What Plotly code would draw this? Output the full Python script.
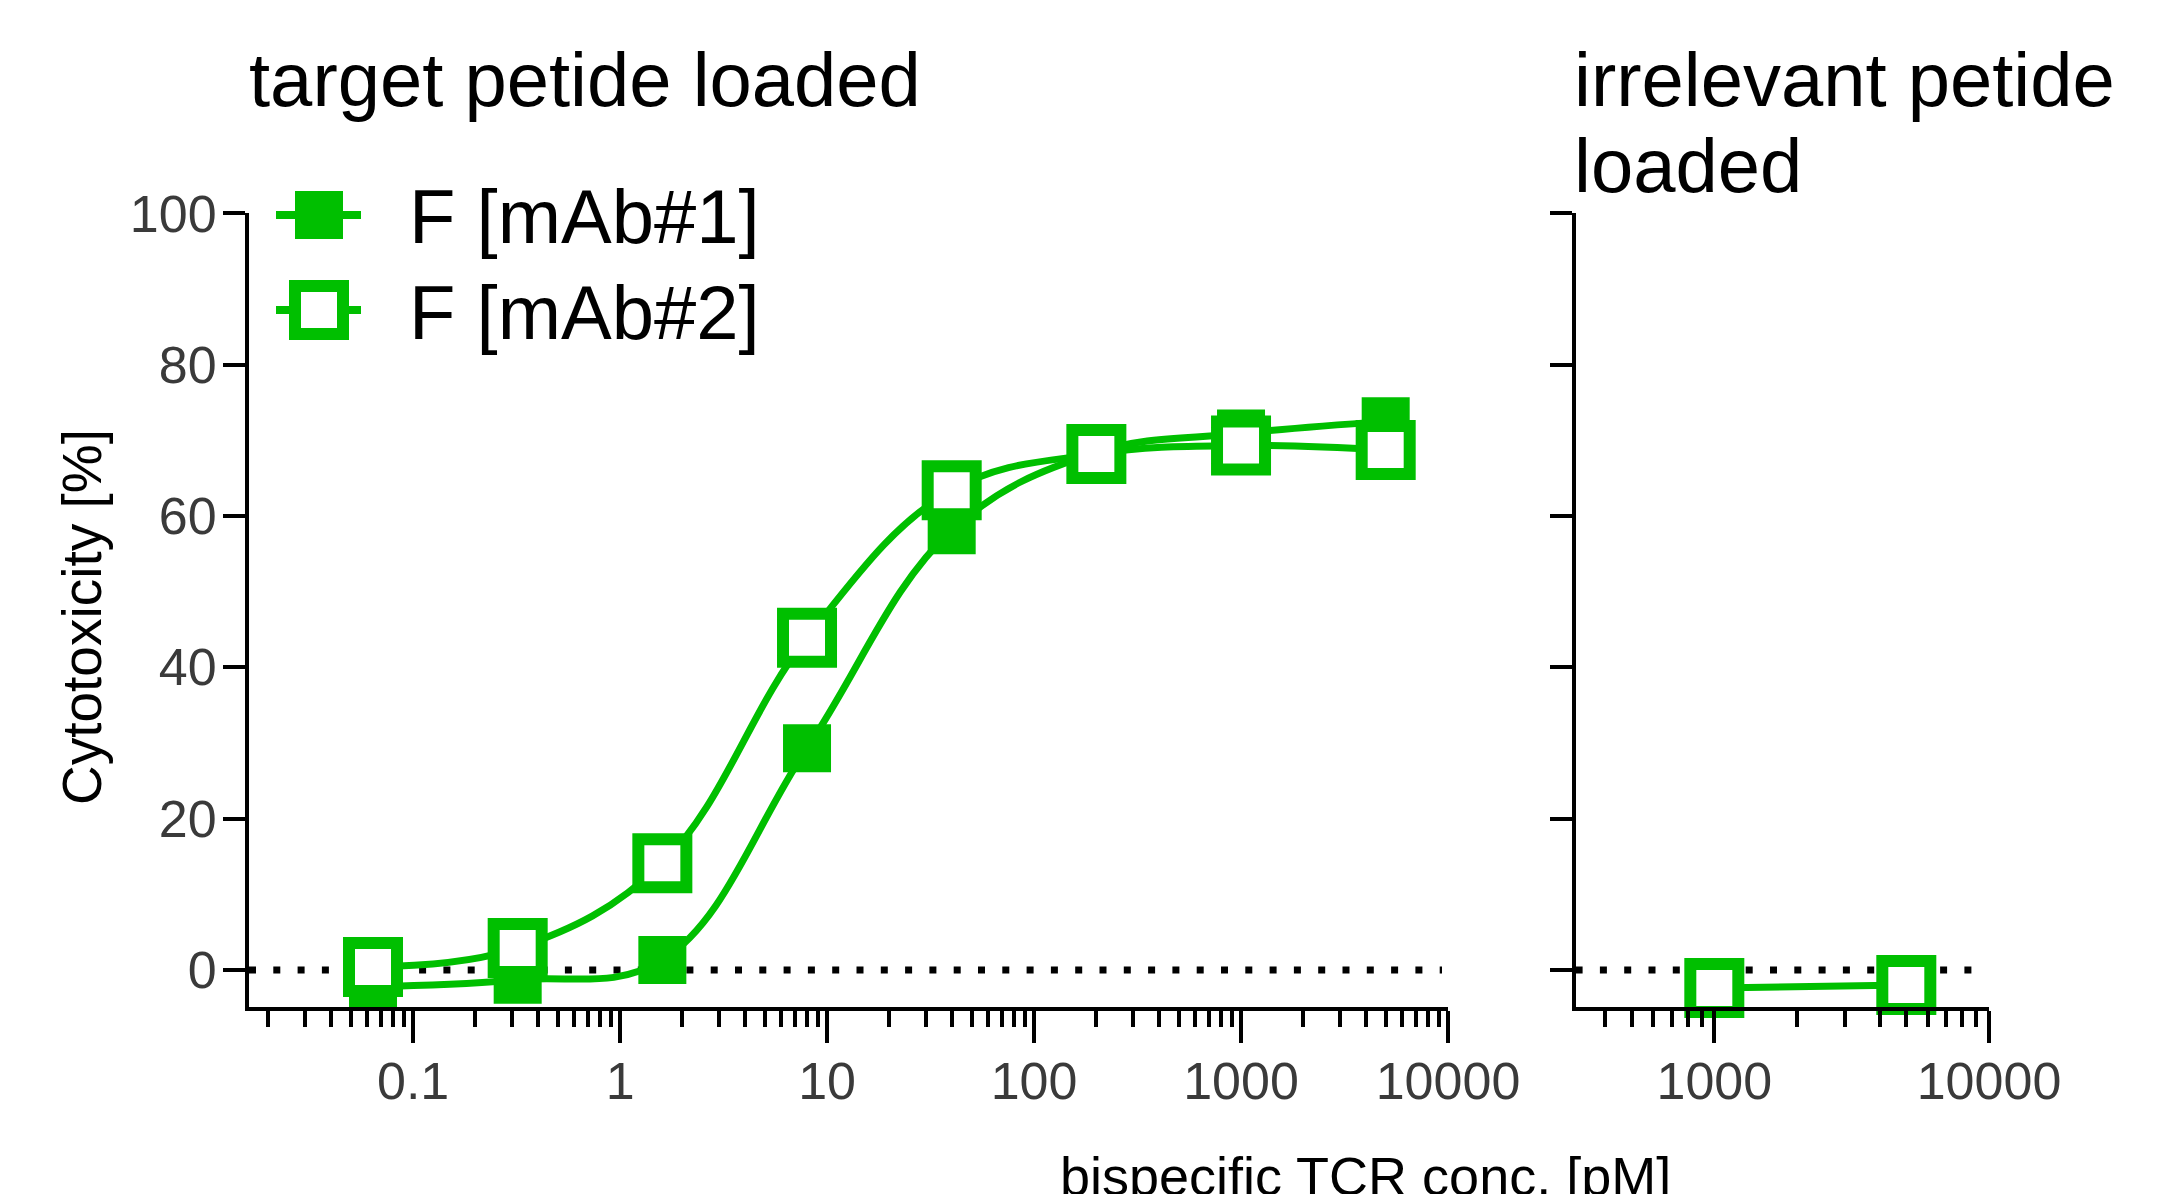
import math
import plotly.graph_objects as go

# ---------------- data ----------------
conc = [0.064, 0.32, 1.6, 8, 40, 200, 1000, 5000]
mab1 = [-2.2, -1.3, 1.3, 29.3, 58.1, 68.4, 70.9, 72.5]
mab2 = [0.4, 2.9, 14.1, 43.9, 63.4, 68.2, 69.3, 68.7]
irr_conc = [1000, 5000]
irr_mab2 = [-2.4, -2.0]

series_names = ["F [mAb#1]", "F [mAb#2]"]
x_tickvals = [0.1, 1, 10, 100, 1000, 10000]
x_ticktext = ["0.1", "1", "10", "100", "1000", "10000"]
x2_tickvals = [1000, 10000]
x2_ticktext = ["1000", "10000"]
y_tickvals = [0, 20, 40, 60, 80, 100]
minor_vals = [m * 10 ** e for e in range(-2, 4) for m in range(2, 10)]

# ---------------- style ----------------
W, H = 2172, 1194
GREEN = "#00bf00"
FONT = "Liberation Sans, Arial, sans-serif"
TICKCOL = "#3a3a3a"
LW = 7

def px_x(p):
    return p / W

def px_y(p):
    return 1 - p / H

fig = go.Figure()

filled_marker = dict(symbol="square", size=48, color=GREEN, line=dict(width=0))
open_marker = dict(symbol="square", size=48, color="white", line=dict(color=GREEN, width=12))

# left panel
fig.add_trace(go.Scatter(x=conc, y=mab1, mode="lines+markers", name=series_names[0],
                         line=dict(color=GREEN, width=LW, shape="spline", smoothing=1.1),
                         marker=filled_marker, xaxis="x", yaxis="y", showlegend=False, cliponaxis=False))
fig.add_trace(go.Scatter(x=conc, y=mab2, mode="lines+markers", name=series_names[1],
                         line=dict(color=GREEN, width=LW, shape="spline", smoothing=1.1),
                         marker=open_marker, xaxis="x", yaxis="y", showlegend=False, cliponaxis=False))
# right panel
fig.add_trace(go.Scatter(x=irr_conc, y=irr_mab2, mode="lines+markers", name=series_names[1],
                         line=dict(color=GREEN, width=LW),
                         marker=open_marker, xaxis="x2", yaxis="y2", showlegend=False, cliponaxis=False))

# custom legend (drawn in paper coordinates)
leg_y = [207, 302]
leg_cx = 311
for i, (name, yy) in enumerate(zip(series_names, leg_y)):
    fig.add_shape(type="line", xref="paper", yref="paper", x0=px_x(268), x1=px_x(353), y0=px_y(yy), y1=px_y(yy),
                  line=dict(color=GREEN, width=8), layer="above")
    if i == 0:
        h = 24
        fig.add_shape(type="rect", xref="paper", yref="paper", x0=px_x(leg_cx - h), x1=px_x(leg_cx + h),
                      y0=px_y(yy - h), y1=px_y(yy + h), fillcolor=GREEN, line=dict(width=0), layer="above")
    else:
        h = 24
        fig.add_shape(type="rect", xref="paper", yref="paper", x0=px_x(leg_cx - h), x1=px_x(leg_cx + h),
                      y0=px_y(yy - h), y1=px_y(yy + h), fillcolor="white", line=dict(color=GREEN, width=12),
                      layer="above")
    fig.add_annotation(x=px_x(399), y=px_y(yy + 2), xref="paper", yref="paper", text=name, showarrow=False,
                       xanchor="left", yanchor="middle", font=dict(family=FONT, size=76, color="black"))

# dotted zero lines
fig.add_shape(type="line", xref="x domain", yref="y", x0=0.0, x1=0.995, y0=0, y1=0,
              line=dict(color="black", width=7, dash="7px,17.3px"), layer="below")
fig.add_shape(type="line", xref="x2 domain", yref="y2", x0=0.0, x1=0.985, y0=0, y1=0,
              line=dict(color="black", width=7, dash="7px,17.3px"), layer="below")

axis_common = dict(showline=True, linewidth=4, linecolor="black", ticks="outside", tickwidth=4,
                   tickcolor="black", showgrid=False, zeroline=False,
                   tickfont=dict(family=FONT, size=52, color=TICKCOL))
minor_cfg = dict(ticks="outside", ticklen=16, tickwidth=4, tickcolor="black",
                 tickmode="array", tickvals=minor_vals, showgrid=False)

dom_x1 = [px_x(241), px_x(1440)]
dom_x2 = [px_x(1567.6), px_x(1981)]
dom_y = [px_y(999), px_y(205.3)]

fig.update_layout(
    width=W, height=H, margin=dict(l=0, r=0, t=0, b=0, autoexpand=False),
    paper_bgcolor="white", plot_bgcolor="rgba(0,0,0,0)",
    xaxis=dict(**axis_common, type="log", range=[-1.793, 4], domain=dom_x1, anchor="y",
               tickmode="array", tickvals=x_tickvals, ticktext=x_ticktext, ticklen=32,
               ticklabelstandoff=-6, minor=minor_cfg),
    yaxis=dict(**axis_common, range=[-4.9, 100], domain=dom_y, anchor="x", tickmode="array",
               tickvals=y_tickvals, ticklen=22, ticklabelstandoff=-4),
    xaxis2=dict(**axis_common, type="log", range=[2.495, 4], domain=dom_x2, anchor="y2",
                tickmode="array", tickvals=x2_tickvals, ticktext=x2_ticktext, ticklen=32,
                ticklabelstandoff=-6, minor=minor_cfg),
    yaxis2=dict(**axis_common, range=[-4.9, 100], domain=dom_y, anchor="x2", tickmode="array",
                tickvals=y_tickvals, ticklen=22, showticklabels=False),
)

# titles
TF = dict(family=FONT, size=76, color="black")
fig.add_annotation(x=px_x(239), y=px_y(71), xref="paper", yref="paper", text="target petide loaded",
                   showarrow=False, xanchor="left", yanchor="middle", font=TF)
fig.add_annotation(x=px_x(1564), y=px_y(71), xref="paper", yref="paper", text="irrelevant petide",
                   showarrow=False, xanchor="left", yanchor="middle", font=TF)
fig.add_annotation(x=px_x(1564), y=px_y(157), xref="paper", yref="paper", text="loaded",
                   showarrow=False, xanchor="left", yanchor="middle", font=TF)
# axis titles
fig.add_annotation(x=px_x(74), y=px_y(609), xref="paper", yref="paper", text="Cytotoxicity [%]",
                   showarrow=False, textangle=-90, xanchor="center", yanchor="middle",
                   font=dict(family=FONT, size=55, color="black"))
fig.add_annotation(x=px_x(1357), y=px_y(1168), xref="paper", yref="paper", text="bispecific TCR conc. [pM]",
                   showarrow=False, xanchor="center", yanchor="middle",
                   font=dict(family=FONT, size=54, color="black"))

fig.write_html("out.html")
